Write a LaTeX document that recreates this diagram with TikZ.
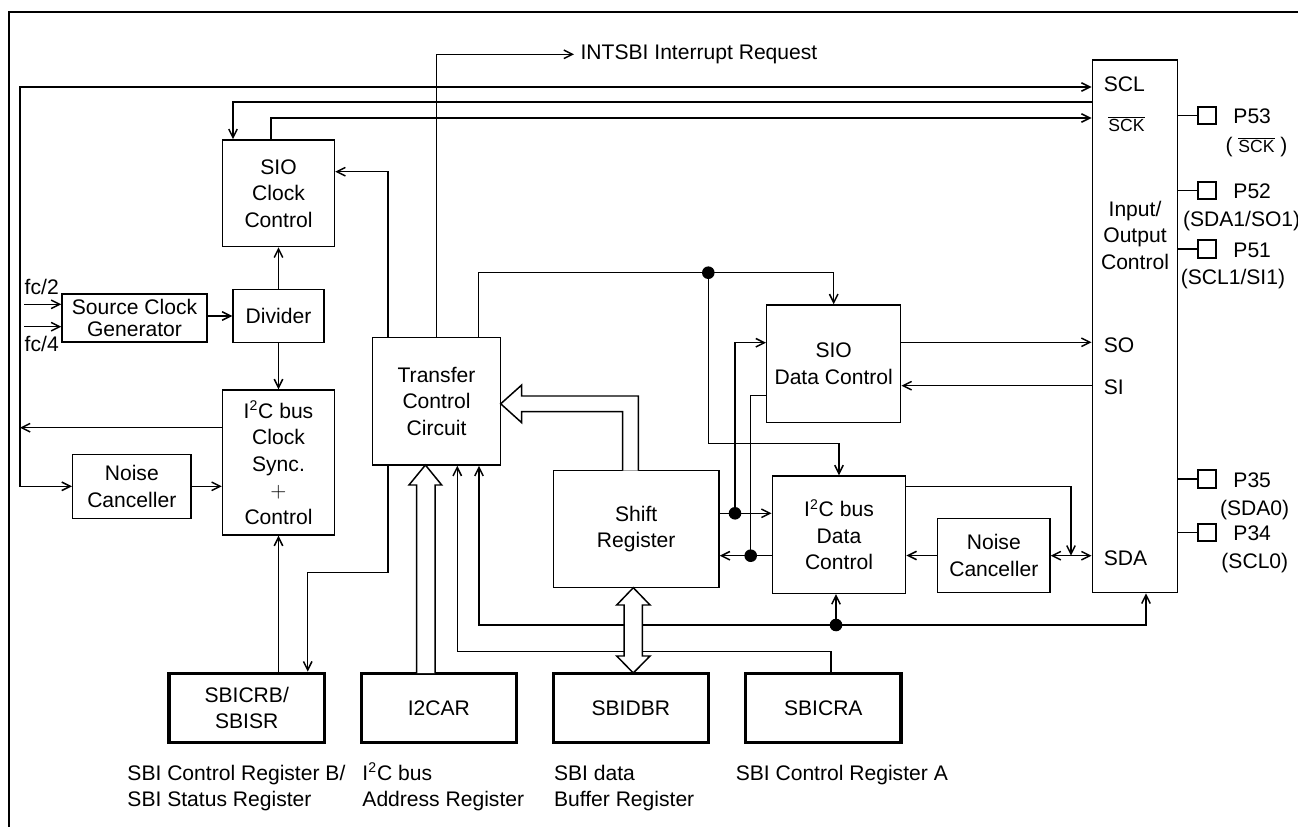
\documentclass[tikz,border=0pt]{standalone}
\usepackage{fontspec}
\setmainfont{Liberation Sans}
\usetikzlibrary{arrows.meta, calc}
\newcommand{\ovl}[1]{$\overline{\mbox{\fontsize{10}{12}\selectfont #1}}$}
\newcommand{\iic}{I\textsuperscript{2}C}
\tikzset{
  every picture/.style={line width=0.85pt, font=\fontsize{12}{15.1}\selectfont},
  blk/.style={draw, align=center, inner sep=2pt},
  reg/.style={draw, line width=1.9pt, align=center, inner sep=2pt, minimum width=3.106cm, minimum height=1.38cm},
  pad/.style={draw, line width=1.1pt, minimum size=0.348cm, inner sep=0pt},
  arr/.style={-{Straight Barb[length=1.7mm,width=1.7mm]}},
  arrs/.style={{Straight Barb[length=1.7mm,width=1.7mm]}-{Straight Barb[length=1.7mm,width=1.7mm]}},
  fat/.style={draw, fill=white, line join=miter},
  lbl/.style={inner sep=0pt, anchor=base west, align=left},
}

\begin{document}
\begin{tikzpicture}[x=0.02cm, y=-0.02cm]
  \useasboundingbox (0,0) rectangle (1298,827);
  \draw[line width=1pt] (9,827) -- (9,12) -- (1298,12);
  % clock side
  \node[blk, minimum width=2.24cm, minimum height=2.134cm] (sioclk) at (278.5,193.3) {SIO\\Clock\\Control};
  \node[blk, minimum width=1.82cm, minimum height=1.06cm] (div) at (278.5,316) {Divider};
  \node[blk, minimum width=2.9cm, minimum height=0.96cm, font=\fontsize{12}{12.6}\selectfont] (src) at (134.5,318) {Source Clock\\Generator};
  \node[blk, minimum width=2.24cm, minimum height=2.9cm] (i2cclk) at (278.5,462.5) {\iic\ bus\\Clock\\Sync.\\$+$\\Control};
  \node[blk, minimum width=2.366cm, minimum height=1.28cm] (ncl) at (131.8,486.3) {Noise\\Canceller};
  \node[lbl] (fc2) at (24,295) {fc/2};
  \node[lbl] (fc4) at (24,351.7) {fc/4};
  % transfer and data side
  \node[blk, minimum width=2.568cm, minimum height=2.554cm] (tcc) at (436.5,401.2) {Transfer\\Control\\Circuit};
  \node[blk, minimum width=3.314cm, minimum height=2.34cm] (shr) at (636.2,529.2) {Shift\\Register};
  \node[blk, minimum width=2.68cm, minimum height=2.354cm] (siod) at (833.7,363.8) {SIO\\Data Control};
  \node[blk, minimum width=2.668cm, minimum height=2.346cm] (i2cd) at (839,534.7) {\iic\ bus\\Data\\Control};
  \node[blk, minimum width=2.246cm, minimum height=1.488cm] (ncr) at (993.8,555.5) {Noise\\Canceller};
  \node[anchor=west] (intlbl) at (574,54.3) {INTSBI Interrupt Request};
  % input/output block
  \node[blk, minimum width=1.708cm, minimum height=10.654cm] (io) at (1135,326.3) {};
  \node[lbl] (scl) at (1103,91.7) {SCL};
  \node[lbl] (sck) at (1107.7,131.7) {\ovl{SCK}};
  \node[align=center] (iolbl) at (1135,235) {Input/\\Output\\Control};
  \node[lbl] (so) at (1103,353) {SO};
  \node[lbl] (si) at (1103,395) {SI};
  \node[lbl] (sda) at (1103,565.7) {SDA};
  % registers
  \node[reg] (crb) at (246.7,707.8) {SBICRB/\\SBISR};
  \node[reg] (car) at (438.8,707.8) {I2CAR};
  \node[reg] (dbr) at (630.8,707.8) {SBIDBR};
  \node[reg] (cra) at (823.3,707.8) {SBICRA};
  \node[lbl] (crbl) at (126.7,806.7) {SBI Control Register B/\\SBI Status Register};
  \node[lbl] (carl) at (361.7,806.7) {\iic\ bus\\Address Register};
  \node[lbl] (dbrl) at (553.3,806.7) {SBI data\\Buffer Register};
  \node[lbl] (cral) at (735,780) {SBI Control Register A};
  % port pins
  \foreach \nm/\y/\txt in {p53/115.7/P53, p52/190.7/P52, p51/249/P51, p35/479/P35, p34/532.3/P34} {
    \node[pad] (\nm) at (1207,\y) {};
    \node[lbl] (\nm l) at (1232.7,\y+8.3) {\txt};
    \draw (io.east |- \nm) -- (\nm.west);
  }
  \node[lbl, anchor=base] (p53s) at (1256.5,153) {( \ovl{SCK} )};
  \node[lbl] (p52s) at (1182.3,226.7) {(SDA1/SO1)};
  \node[lbl] (p51s) at (1180,285) {(SCL1/SI1)};
  \node[lbl] (p35s) at (1219.3,515) {(SDA0)};
  \node[lbl] (p34s) at (1220.7,568.3) {(SCL0)};
  % wire corners
  \coordinate (lft) at (20,87);
  \coordinate (sclj) at (20,427.7);
  \coordinate (ckin) at (233,102);
  \coordinate (ckout) at (271,118);
  \coordinate (fin2) at (24,304.3);
  \coordinate (fin4) at (24,326.7);
  \coordinate (tc1) at (388,171.7);
  \coordinate (tc2) at (307.7,572.3);
  \coordinate (tc3) at (478.3,272.7);
  \coordinate (jt) at (708.3,272.7);
  \coordinate (jb) at (708.3,443.3);
  \coordinate (d1) at (735,513.3);
  \coordinate (d1top) at (735,342.7);
  \coordinate (d2) at (750.7,555.7);
  \coordinate (d2top) at (750.7,395.7);
  \coordinate (rso) at (1000,342.3);
  \coordinate (rsi) at (1000,385.7);
  \coordinate (d3) at (1071,486.7);
  \coordinate (sdaj) at (1071,555.7);
  \coordinate (bl) at (479,625);
  \coordinate (b1) at (836,625);
  \coordinate (br) at (1146,625);
  \coordinate (c1) at (831,651.7);
  \coordinate (c2) at (457.3,651.7);
  % clock wires
  \draw[arr] (sclj) |- (io.west |- lft);
  \draw[arr] (sclj) |- (ncl.west);
  \draw[arr] (i2cclk.west |- sclj) -- (sclj);
  \draw[arr] (ncl.east) -- (ncl.east -| i2cclk.west);
  \draw[arr] (io.west |- ckin) -- (ckin) -- (ckin |- sioclk.north);
  \draw[arr] (ckout |- sioclk.north) -- (ckout) -- (io.west |- ckout);
  \draw[arr] (fin2) -- (fin2 -| src.west);
  \draw[arr] (fin4) -- (fin4 -| src.west);
  \draw[arr] (src.east |- div.west) -- (div.west);
  \draw[arr] (div.north) -- (sioclk.south);
  \draw[arr] (div.south) -- (i2cclk.north);
  \draw[arr] (i2cclk.south |- crb.north) -- (i2cclk.south);
  \draw[arr] (tcc.north -| tc1) |- (sioclk.east |- tc1);
  \draw[arr] (tcc.south -| tc1) |- (tc2) -- (tc2 |- crb.north);
  \draw[arr] (tcc.north) |- (intlbl.west);
  % data wires
  \draw[arr] (tcc.north -| tc3) -- (tc3) -| (siod.north);
  \draw[arr] (jt) -- (jb) -| (i2cd.north);
  \draw[arr] (shr.east |- d1) -- (i2cd.west |- d1);
  \draw[arr] (d1) -- (d1top) -- (d1top -| siod.west);
  \draw[arr] (i2cd.west |- d2) -- (shr.east |- d2);
  \draw (d2top -| siod.west) -- (d2top) -- (d2);
  \draw[arr] (siod.east |- rso) -- (io.west |- rso);
  \draw[arr] (io.west |- rsi) -- (siod.east |- rsi);
  \draw[arr] (d3 -| i2cd.east) -- (d3) -- (sdaj);
  \draw[arrs] (ncr.east |- sdaj) -- (io.west |- sdaj);
  \draw[arr] (ncr.west) -- (ncr.west -| i2cd.east);
  \draw[arr] (b1) -| (tcc.south -| bl);
  \draw[arr] (b1) -| (io.south -| br);
  \draw[arr] (b1) -- (b1 |- i2cd.south);
  \draw[arr] (cra.north -| c1) -- (c1) -- (c2) -- (c2 |- tcc.south);
  \foreach \p in {jt, d1, d2, b1} \fill (\p) circle[radius=0.126cm];
  % bus arrows
  \draw[fat] (416.7,673) -- (416.7,485) -- (409,485) -- (425.4,465) -- (441.7,485) -- (435,485) -- (435,673);
  \draw[fat] (622.7,470.7) -- (622.7,411.7) -- (521.7,411.7) -- (521.7,422.7) -- (500.7,403.8) -- (521.7,385) -- (521.7,396) -- (638.3,396) -- (638.3,470.7);
  \draw[fat] (633.3,587.7) -- (650,605) -- (642.3,605) -- (642.3,656) -- (650,656) -- (633.3,673) -- (616.7,656) -- (624,656) -- (624,605) -- (616.7,605) -- cycle;
\end{tikzpicture}
\end{document}
